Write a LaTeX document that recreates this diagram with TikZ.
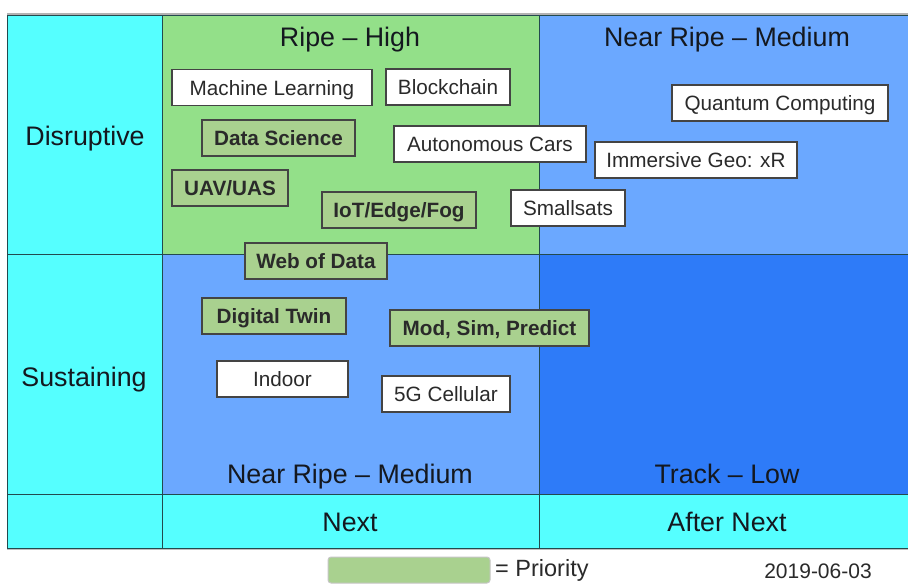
\documentclass[tikz,border=0pt]{standalone}
\usepackage{fontspec}
\setmainfont{Liberation Sans}
\usetikzlibrary{positioning}
\definecolor{cyanbg}{HTML}{55FFFF}
\definecolor{ripegreen}{HTML}{93E089}
\definecolor{nearblue}{HTML}{6BA8FF}
\definecolor{trackblue}{HTML}{2E7BF8}
\definecolor{priogreen}{HTML}{A9D18F}
\definecolor{gridline}{HTML}{234A4E}
\definecolor{boxline}{HTML}{444444}
\definecolor{boxtext}{HTML}{2A2A2A}
\definecolor{labeltext}{HTML}{14181F}
\newcommand{\boxh}{36pt}

\begin{document}
\begin{tikzpicture}[x=1pt,y=-1pt,
    cell/.style={draw=gridline, line width=1.3pt, anchor=north west, inner sep=0pt},
    head/.style={font=\fontsize{26.8}{30}\selectfont, text=labeltext, inner sep=0pt, anchor=base},
    tech/.style={draw=boxline, line width=1.5pt, fill=white, minimum height=\boxh, inner sep=0pt, text height=18pt, text depth=3pt, font=\fontsize{20.7}{24}\selectfont, text=boxtext},
    prio/.style={tech, fill=priogreen, font=\fontsize{20.7}{24}\selectfont\bfseries}]
    \useasboundingbox (0,0) rectangle (908,584);
    \fill[white] (0,0) rectangle (908,584);
    \draw[gray!60, line width=1.5pt] (7,14) -- (908,14);
    \draw[gray!50, line width=1.5pt] (7,549) -- (908,549);

    % First row
    \node[cell, fill=cyanbg, minimum width=155pt, minimum height=239pt] (cell-1-1) at (7,15) {};
    \node[cell, fill=ripegreen, minimum width=377pt, minimum height=239pt] (cell-1-2) at (162,15) {};
    \node[cell, fill=nearblue, minimum width=371pt, minimum height=239pt] (cell-1-3) at (539,15) {};

    % Second row
    \node[cell, fill=cyanbg, minimum width=155pt, minimum height=240pt] (cell-2-1) at (7,254) {};
    \node[cell, fill=nearblue, minimum width=377pt, minimum height=240pt] (cell-2-2) at (162,254) {};
    \node[cell, fill=trackblue, minimum width=371pt, minimum height=240pt] (cell-2-3) at (539,254) {};

    % Third row
    \node[cell, fill=cyanbg, minimum width=155pt, minimum height=54pt] (cell-3-1) at (7,494) {};
    \node[cell, fill=cyanbg, minimum width=377pt, minimum height=54pt] (cell-3-2) at (162,494) {};
    \node[cell, fill=cyanbg, minimum width=371pt, minimum height=54pt] (cell-3-3) at (539,494) {};

    % Labels
    \node[head] (disruptive) at (85,145) {Disruptive};
    \node[head] (sustaining) at (84,386) {Sustaining};
    \node[head] (ripe-high) at (350,46) {Ripe -- High};
    \node[head] (near-top) at (727,46) {Near Ripe -- Medium};
    \node[head] (near-bottom) at (350,483) {Near Ripe -- Medium};
    \node[head] (track-low) at (727,483) {Track -- Low};
    \node[head] (next) at (350,531) {Next};
    \node[head] (after-next) at (727,531) {After Next};

    % Technologies
    \node[tech, minimum width=200pt] (ml) at (272,87.5) {Machine Learning};
    \node[tech, minimum width=124pt] (bc) at (448,87) {Blockchain};
    \node[prio, minimum width=153pt] (ds) at (278.5,138) {Data Science};
    \node[tech, minimum width=192pt] (ac) at (490,144) {Autonomous Cars};
    \node[tech, minimum width=216pt] (qc) at (780,103) {Quantum Computing};
    \node[tech, minimum width=202pt] (ig) at (696,160) {Immersive Geo: xR};
    \node[prio, minimum width=116pt] (uav) at (230,188) {UAV/UAS};
    \node[prio, minimum width=154pt] (iot) at (399,210) {IoT/Edge/Fog};
    \node[tech, minimum width=114pt] (ss) at (568,208) {Smallsats};
    \node[prio, minimum width=142pt] (wod) at (316,261) {Web of Data};
    \node[prio, minimum width=144pt] (dt) at (274,316) {Digital Twin};
    \node[prio, minimum width=199pt] (msp) at (489.5,328) {Mod, Sim, Predict};
    \node[tech, minimum width=131pt] (ind) at (282.5,379) {Indoor};
    \node[tech, minimum width=128pt] (fg) at (446,394) {5G Cellular};

    % Legend
    \node[draw=gray!45, line width=1pt, fill=priogreen, rounded corners=3pt, minimum width=162pt, minimum height=26pt, inner sep=0pt] (legend) at (409,570) {};
    \node[font=\fontsize{23.5}{26}\selectfont, text=boxtext, inner sep=0pt, anchor=base west] (legend-text) at (495,576) {= Priority};
    \node[font=\fontsize{21}{24}\selectfont, text=boxtext, inner sep=0pt, anchor=base] (date) at (818,578) {2019-06-03};

\end{tikzpicture}
\end{document}
